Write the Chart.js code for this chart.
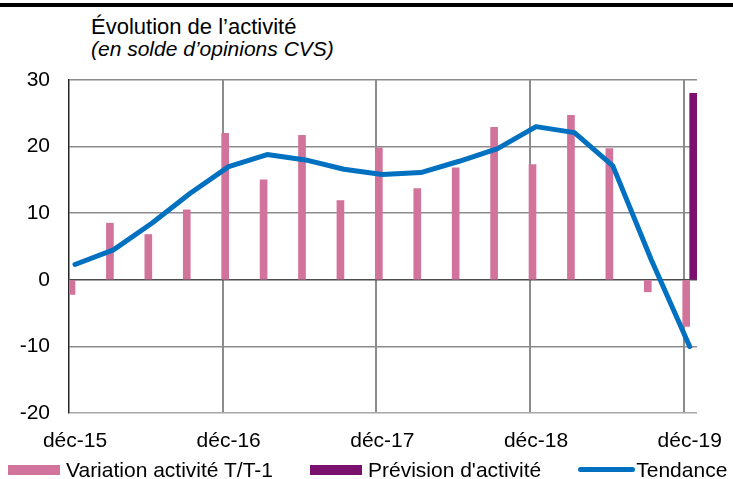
<!DOCTYPE html>
<html lang="fr">
<head>
<meta charset="utf-8">
<title>Évolution de l'activité</title>
<script src="https://cdn.jsdelivr.net/npm/chart.js@4.4.1/dist/chart.umd.min.js"></script>
<style>
  html, body { margin: 0; padding: 0; background: #fff; }
  body {
    width: 733px; height: 479px; overflow: hidden; position: relative;
    font-family: "Liberation Sans", Arial, sans-serif; color: #000;
  }
  #topRule { position: absolute; left: 0; top: 3px; width: 733px; height: 4px; background: #000; }
  #title { position: absolute; left: 91px; top: 16px; font-size: 22px; line-height: 22px; white-space: nowrap; }
  #subtitle { position: absolute; left: 91px; top: 38px; font-size: 21px; line-height: 21px; font-style: italic; white-space: nowrap; }
  #activityChart { position: absolute; left: 0; top: 0; }
  #legend {
    position: absolute; left: 8px; top: 459px; display: flex; align-items: center;
    font-size: 21px; line-height: 21px; white-space: nowrap;
  }
  .legend-item { display: flex; align-items: center; margin-right: 37px; }
  .legend-swatch { width: 52px; height: 10px; margin-right: 6px; }
  .legend-swatch.line { width: 57px; height: 5px; border-radius: 3px; margin-right: 1px; }
</style>
</head>
<body>
<div id="topRule"></div>
<div id="title">Évolution de l’activité</div>
<div id="subtitle">(en solde d’opinions CVS)</div>
<canvas id="activityChart" width="733" height="479"></canvas>
<div id="legend"></div>

<script>
// quarters, déc-15 -> déc-19
const quarters = [
  "déc-15", "mars-16", "juin-16", "sept-16",
  "déc-16", "mars-17", "juin-17", "sept-17",
  "déc-17", "mars-18", "juin-18", "sept-18",
  "déc-18", "mars-19", "juin-19", "sept-19",
  "déc-19",
];

// Variation activité T/T-1 (solde d'opinions)
const variation = [-2.2, 8.5, 6.8, 10.5, 22.0, 15.0, 21.7, 11.9, 19.8, 13.7, 16.8, 22.9, 17.3, 24.7, 19.7, -1.8, -7.0];

// Prévision d'activité (only the last quarter)
const prevision = [null, null, null, null, null, null, null, null, null, null, null, null, null, null, null, null, 28.0];

// Tendance
const tendance = [2.3, 4.5, 8.5, 13.0, 17.0, 18.8, 18.0, 16.6, 15.8, 16.1, 17.8, 19.7, 23.0, 22.1, 17.1, 3.0, -10.0];

// axis ticks
const yearTickIndex = [0, 4, 8, 12, 16];
const yearLabels = ["déc-15", "déc-16", "déc-17", "déc-18", "déc-19"];
const yTicks = [-20, -10, 0, 10, 20, 30];

const GRID_SHIFT = -0.156; // year gridlines sit just left of the quarter

const toPoints = (arr) => arr.map((v, i) => ({ x: i, y: v }));

Chart.defaults.font.family = "'Liberation Sans', Arial, sans-serif";
Chart.defaults.font.size = 21;
Chart.defaults.color = "#000";

const ctx = document.getElementById("activityChart").getContext("2d");

const activityChart = new Chart(ctx, {
  type: "bar",
  data: {
    datasets: [
      {
        label: "Variation activité T/T-1",
        data: toPoints(variation),
        backgroundColor: "#D1739A",
        barThickness: 7,
        order: 1,
      },
      {
        label: "Prévision d'activité",
        data: toPoints(prevision),
        backgroundColor: "#7B106F",
        barThickness: 7,
        order: 2,
      },
      {
        type: "line",
        label: "Tendance",
        data: toPoints(tendance),
        borderColor: "#0070C0",
        backgroundColor: "#0070C0",
        borderWidth: 5,
        pointRadius: 0,
        tension: 0,
        fill: false,
        borderCapStyle: "round",
        borderJoinStyle: "round",
        order: 0,
      },
    ],
  },
  options: {
    responsive: false,
    animation: false,
    devicePixelRatio: 1,
    layout: { padding: { top: 80, right: 36, bottom: 0, left: 0 } },
    plugins: {
      legend: { display: false },
      tooltip: { enabled: false },
    },
    scales: {
      x: {
        type: "linear",
        offset: false,
        min: GRID_SHIFT,
        max: 16.19,
        afterBuildTicks: (scale) => {
          scale.ticks = yearTickIndex.map((i) => ({ value: i + GRID_SHIFT }));
        },
        afterFit: (scale) => {
          scale.height = 66;
        },
        grid: {
          offset: false,
          drawTicks: false,
          lineWidth: 2,
          color: (c) => (c.index === 0 ? "rgba(0,0,0,0)" : "#8c8c8c"),
        },
        border: { display: false },
        ticks: {
          padding: 16,
          labelOffset: 6,
          maxRotation: 0,
          autoSkip: false,
          callback: (value, index) => yearLabels[index],
        },
      },
      y: {
        min: -20,
        max: 30,
        afterBuildTicks: (scale) => {
          scale.ticks = yTicks.map((v) => ({ value: v }));
        },
        afterFit: (scale) => {
          scale.width = 69;
        },
        grid: {
          drawTicks: false,
          lineWidth: 1.5,
          color: (c) => {
            if (c.tick.value === 0) return "#4d4d4d";
            if (c.tick.value === -20) return "#a6a6a6";
            return "#8c8c8c";
          },
        },
        border: { display: true, color: "#262626", width: 1.5 },
        ticks: { padding: 19 },
      },
    },
  },
});

// HTML legend built from the datasets
function buildLegend(chart) {
  const legend = document.getElementById("legend");
  legend.innerHTML = "";
  chart.data.datasets.forEach((ds) => {
    const item = document.createElement("div");
    item.className = "legend-item";
    const swatch = document.createElement("span");
    swatch.className = "legend-swatch" + (ds.type === "line" ? " line" : "");
    swatch.style.background = ds.type === "line" ? ds.borderColor : ds.backgroundColor;
    const text = document.createElement("span");
    text.textContent = ds.label;
    item.appendChild(swatch);
    item.appendChild(text);
    legend.appendChild(item);
  });
}
buildLegend(activityChart);
</script>
</body>
</html>
